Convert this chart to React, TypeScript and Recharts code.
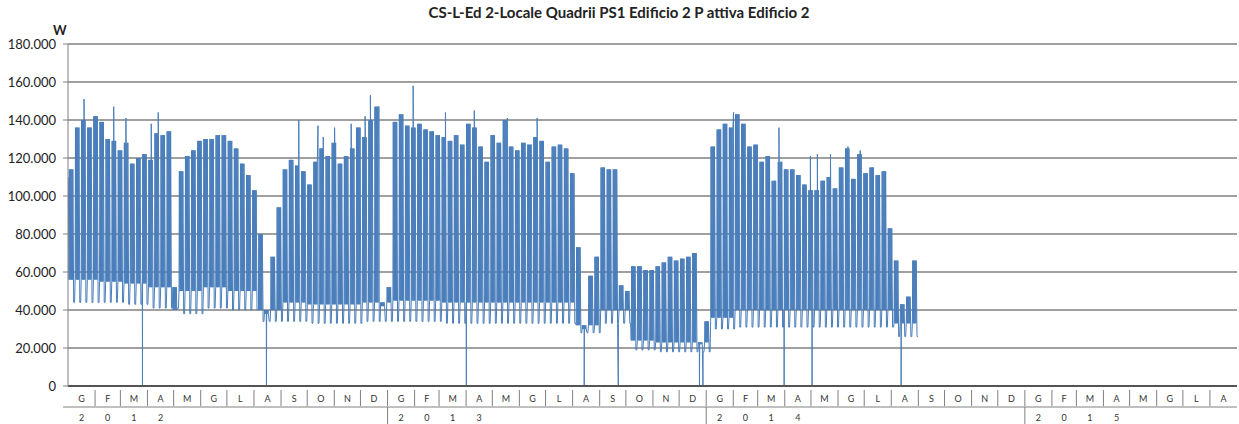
import { LineChart, Line, XAxis, YAxis, CartesianGrid } from "recharts";

const TITLE = "CS-L-Ed 2-Locale Quadrii PS1 Edificio 2 P attiva Edificio 2";
const MONTHS = ["G", "F", "M", "A", "M", "G", "L", "A", "S", "O", "N", "D"];
const YEARS = [2012, 2013, 2014, 2015];
const Y_TICKS = [0, 20000, 40000, 60000, 80000, 100000, 120000, 140000, 160000, 180000];

// picchi settimanali (migliaia di W), settimana 0 = lun 2 gen 2012
const peaks2012 = [114, 136, 140, 136, 142, 139, 130, 129, 124, 128, 117, 120, 122, 119, 133, 132, 134, 40, 113, 121, 124, 129, 130, 130, 132, 132, 129, 125, 117, 111, 103, 80, 38, 68, 94, 114, 119, 116, 113, 106, 118, 125, 121, 128, 117, 121, 125, 136, 131, 140, 147, 42, 52];
// da lun 7 gen 2013
const peaks2013 = [139, 143, 137, 136, 138, 135, 134, 132, 131, 129, 132, 127, 138, 136, 126, 118, 132, 128, 140, 126, 124, 128, 127, 131, 129, 118, 126, 127, 125, 112, 73, 30, 58, 68, 115, 114, 114, 53, 50, 63, 63, 61, 61, 63, 65, 68, 66, 67, 68, 70, 22, 34];
// da lun 6 gen 2014
const peaks2014 = [126, 135, 138, 136, 143, 138, 126, 127, 118, 121, 108, 118, 114, 114, 111, 106, 103, 103, 108, 110, 104, 115, 125, 109, 122, 112, 115, 111, 113, 83, 66, 43, 47, 66];

// livello notturno feriale e minimo del fine settimana, per mese (migliaia di W)
const nightBase2012 = [56, 55, 54, 52, 50, 52, 50, 40, 44, 43, 43, 44];
const nightBase2013 = [45, 45, 44, 44, 44, 44, 44, 32, 40, 24, 23, 23];
const nightBase2014 = [36, 40, 40, 40, 40, 40, 40, 33];
const weekendLow2012 = [44, 44, 43, 41, 38, 41, 40, 34, 34, 33, 33, 34];
const weekendLow2013 = [34, 34, 33, 33, 33, 33, 33, 28, 33, 19, 18, 18];
const weekendLow2014 = [30, 31, 31, 31, 31, 31, 31, 26];

// picchi isolati [giorno dal 1/1/2012, migliaia di W]
const spikes: [number, number][] = [
  [0, 110], [18, 151], [52, 147], [66, 141], [95, 138], [103, 144],
  [264, 140], [286, 137], [292, 131], [305, 136], [324, 138], [340, 142], [346, 153], [356, 147],
  [395, 158], [432, 144], [465, 145], [503, 141], [537, 141],
  [762, 144], [814, 136], [850, 121], [858, 122], [873, 122], [893, 126], [907, 124],
];
// cadute a zero
const zeroDays = [85, 227, 456, 591, 630, 723, 727, 820, 852, 954];

const W = 1239;
const H = 424;
const LEFT = 68;
const RIGHT = 1237;
const TOP = 44;
const BOTTOM = 386;

const DAY = 86400000;
const T0 = Date.UTC(2012, 0, 1);
const MONTH_STARTS = Array.from({ length: 45 }, (_, i) => Math.round((Date.UTC(2012, i, 1) - T0) / DAY));
const T_END = MONTH_STARTS[44];
const PX_PER_DAY = (RIGHT - LEFT) / T_END;

const weekPeaks = [...peaks2012, ...peaks2013, ...peaks2014];
const nightBase = [...nightBase2012, ...nightBase2013, ...nightBase2014];
const weekendLow = [...weekendLow2012, ...weekendLow2013, ...weekendLow2014];

function monthOf(day: number) {
  let m = 0;
  while (m < 43 && MONTH_STARTS[m + 1] <= day) m++;
  return m;
}

const points: { t: number; w: number }[] = [];
weekPeaks.forEach((p, k) => {
  const mon = 1 + 7 * k;
  const m = monthOf(mon);
  for (let i = 0; i < 5; i++) {
    points.push({ t: mon + i + 0.15, w: nightBase[m] * 1000 });
    points.push({ t: mon + i + 0.55, w: p * 1000 });
  }
  points.push({ t: mon + 5.5, w: weekendLow[m] * 1000 });
  points.push({ t: mon + 6.5, w: weekendLow[m] * 1000 });
});
spikes.forEach(([d, v]) => points.push({ t: d + 0.35, w: v * 1000 }));
zeroDays.forEach((d) => points.push({ t: d + 0.3, w: 0 }));
points.sort((a, b) => a.t - b.t);

const fmtY = (v: number) => (v === 0 ? "0" : `${v / 1000}.000`);

function MonthTick(props: any) {
  const { x, payload } = props;
  const i = MONTH_STARTS.indexOf(payload.value);
  if (i < 0) return null;
  const parts = [];
  if (i === 0) {
    parts.push(<line key="row" x1={LEFT - 5} x2={RIGHT} y1={407} y2={407} stroke="#808080" strokeWidth={1} />);
  }
  if (i > 0 && i < 44) {
    parts.push(<line key="sep" x1={x} x2={x} y1={390} y2={406} stroke="#808080" strokeWidth={1} />);
  }
  if (i % 12 === 0 && i > 0 && i < 44) {
    parts.push(<line key="ysep" x1={x} x2={x} y1={407} y2={H} stroke="#808080" strokeWidth={1} />);
  }
  if (i < 44) {
    const cx = x + ((MONTH_STARTS[i + 1] - MONTH_STARTS[i]) * PX_PER_DAY) / 2;
    parts.push(
      <text key="m" x={cx} y={402} textAnchor="middle" fontSize={9} fill="#333" fontFamily="Lato">
        {MONTHS[i % 12]}
      </text>
    );
    if (i % 12 < 4) {
      const digit = String(YEARS[Math.floor(i / 12)])[i % 12];
      parts.push(
        <text key="y" x={cx} y={421} textAnchor="middle" fontSize={9} fill="#333" fontFamily="Lato">
          {digit}
        </text>
      );
    }
  }
  return <g>{parts}</g>;
}

export default function App() {
  return (
    <div style={{ position: "fixed", left: 0, top: 0, width: W, height: H, background: "#fff", fontFamily: "Lato" }}>
      <div
        style={{
          position: "absolute",
          left: 0,
          width: W - 1,
          top: 3,
          textAlign: "center",
          fontSize: 15,
          fontWeight: 700,
          color: "#222",
          lineHeight: "18px",
        }}
      >
        {TITLE}
      </div>
      <div style={{ position: "absolute", left: 53, top: 22, fontSize: 13, fontWeight: 700, color: "#222" }}>W</div>
      <LineChart width={W} height={H} data={points} margin={{ top: TOP, right: W - RIGHT, bottom: 0, left: 0 }}>
        <CartesianGrid vertical={false} stroke="#808080" strokeWidth={1.5} />
        <XAxis
          dataKey="t"
          type="number"
          domain={[0, T_END]}
          ticks={MONTH_STARTS}
          interval={0}
          tick={<MonthTick />}
          tickLine={false}
          tickSize={0}
          axisLine={{ stroke: "#555", strokeWidth: 2 }}
          height={H - BOTTOM}
          allowDataOverflow
        />
        <YAxis
          domain={[0, 180000]}
          ticks={Y_TICKS}
          interval={0}
          tickFormatter={fmtY}
          width={LEFT}
          tickSize={5}
          tickMargin={7}
          tick={{ fontSize: 13, fill: "#222", fontFamily: "Lato" }}
          tickLine={{ stroke: "#808080" }}
          axisLine={{ stroke: "#808080" }}
        />
        <Line
          type="linear"
          dataKey="w"
          stroke="#4a7ebb"
          strokeWidth={1}
          dot={false}
          isAnimationActive={false}
        />
      </LineChart>
    </div>
  );
}
